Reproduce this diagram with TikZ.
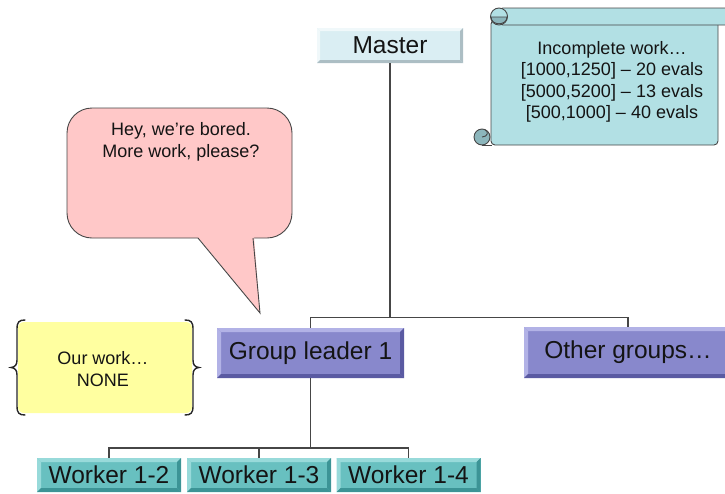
\documentclass[tikz,border=0pt]{standalone}
\usepackage{fontspec}
\setmainfont{Liberation Sans}
\definecolor{mfill}{RGB}{218,238,243}
\definecolor{mlight}{RGB}{240,248,250}
\definecolor{mdark}{RGB}{172,190,196}
\definecolor{gfill}{RGB}{136,136,204}
\definecolor{glight}{RGB}{178,178,230}
\definecolor{gdark}{RGB}{90,90,162}
\definecolor{wfill}{RGB}{104,192,192}
\definecolor{wlight}{RGB}{152,218,218}
\definecolor{wdark}{RGB}{60,148,150}
\definecolor{scfill}{RGB}{178,224,228}
\definecolor{sccurl}{RGB}{140,182,188}
\definecolor{pinkfill}{RGB}{255,200,200}
\definecolor{yelfill}{RGB}{255,255,160}
\definecolor{linecol}{RGB}{70,70,70}
\definecolor{txt}{RGB}{20,20,20}
\tikzset{
  bevel/.style n args={4}{fill=#1, path picture={
    \fill[#2] (path picture bounding box.north west) -- (path picture bounding box.north east)
      -- ([shift={(-#4,-#4)}]path picture bounding box.north east) -- ([shift={(#4,-#4)}]path picture bounding box.north west) -- cycle;
    \fill[#2] (path picture bounding box.north west) -- (path picture bounding box.south west)
      -- ([shift={(#4,#4)}]path picture bounding box.south west) -- ([shift={(#4,-#4)}]path picture bounding box.north west) -- cycle;
    \fill[#3] (path picture bounding box.south west) -- (path picture bounding box.south east)
      -- ([shift={(-#4,#4)}]path picture bounding box.south east) -- ([shift={(#4,#4)}]path picture bounding box.south west) -- cycle;
    \fill[#3] (path picture bounding box.north east) -- (path picture bounding box.south east)
      -- ([shift={(-#4,#4)}]path picture bounding box.south east) -- ([shift={(-#4,-#4)}]path picture bounding box.north east) -- cycle;
  }},
  boxtext/.style={inner sep=0pt, text=txt, font=\fontsize{24.5}{29}\selectfont},
  mbox/.style={boxtext, bevel={mfill}{mlight}{mdark}{3pt}, minimum width=146pt, minimum height=35pt},
  gbox/.style={boxtext, bevel={gfill}{glight}{gdark}{4pt}},
  wbox/.style={boxtext, bevel={wfill}{wlight}{wdark}{4pt}, minimum width=144pt, minimum height=34pt},
  note/.style={inner sep=0pt, text=txt, align=center, font=\fontsize{18}{21.5}\selectfont},
  conn/.style={draw=linecol, line width=1.1pt},
  outl/.style={draw=linecol, line width=0.9pt},
  brace/.style={draw=black!85, line width=1.4pt, line cap=round},
}
\begin{document}
\begin{tikzpicture}[x=1pt,y=-1pt]
\useasboundingbox (0,0) rectangle (725,493);

% scroll
\filldraw[fill=scfill, outl, rounded corners=4pt] (491,20) rectangle (718,145);
\filldraw[fill=scfill, outl, rounded corners=4pt] (499,8) rectangle (740,25);
\filldraw[fill=scfill, outl] (499,16.5) circle (8.5);
\filldraw[fill=sccurl, outl] (491,17) .. controls (491,26) and (507,26) .. (507,17) -- cycle;
\filldraw[fill=sccurl, outl] (482,137) circle (8);
\draw[outl] (482,145) -- (492,145);
\draw[outl] (482,137) .. controls (488,137) and (489,131) .. (485,130);
\node[note] (incomplete) at (612,82) {Incomplete work…\\{}[1000,1250] – 20 evals\\{}[5000,5200] – 13 evals\\{}[500,1000] – 40 evals};

% speech bubble
\filldraw[fill=pinkfill, outl, rounded corners=25pt] (67,108) rectangle (292,238);
\fill[pinkfill] (197,236) -- (260,313) -- (254,236) -- cycle;
\draw[outl] (198,238) -- (260,313) -- (253,238);
\node[note] (bubble) at (181,142) {Hey, we’re bored.\\More work, please?};

% yellow braces
\fill[yelfill, rounded corners=6pt] (18,322) rectangle (192,413);
\draw[brace] (25,320) .. controls (19,320) and (17,322) .. (17,329) -- (17,360) .. controls (17,365) and (15,367) .. (11,367.5) .. controls (15,368) and (17,370) .. (17,375) -- (17,406) .. controls (17,413) and (19,415) .. (25,415);
\draw[brace] (185,320) .. controls (191,320) and (193,322) .. (193,329) -- (193,360) .. controls (193,365) and (195,367) .. (199,367.5) .. controls (195,368) and (193,370) .. (193,375) -- (193,406) .. controls (193,413) and (191,415) .. (185,415);
\node[note] (ourwork) at (103,369) {Our work…\\NONE};

% org chart
\node[mbox] (master) at (390,45.5) {Master};
\node[gbox, minimum width=187pt, minimum height=50pt] (gl) at (310.5,353) {Group leader 1};
\node[gbox, minimum width=208pt, minimum height=51pt] (og) at (628,352.5) {Other groups…};
\node[wbox] (w2) at (109,475) {Worker 1-2};
\node[wbox] (w3) at (259,475) {Worker 1-3};
\node[wbox] (w4) at (408.5,475) {Worker 1-4};

\coordinate (bus1) at (390,317.5);
\coordinate (bus2) at (310.5,448);
\draw[conn] (master.south) -- (bus1);
\draw[conn] (gl.north) |- (bus1) -| (og.north);
\draw[conn] (gl.south) -- (bus2);
\draw[conn] (w2.north) |- (bus2) -| (w4.north);
\draw[conn] (w3.north) -- (w3.north |- bus2);
\end{tikzpicture}
\end{document}
